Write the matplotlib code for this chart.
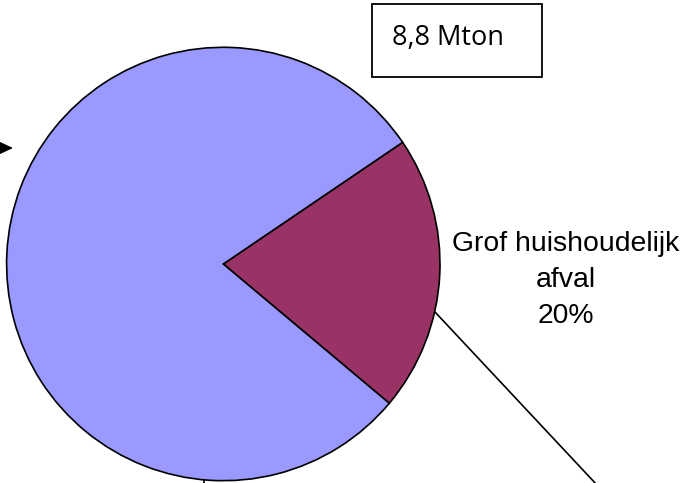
import matplotlib.pyplot as plt
from matplotlib.patches import Rectangle

# share of total waste (8,8 Mton)
categories = ["Grof huishoudelijk afval", "Overig"]
shares = [20.6, 79.4]
colors = ["#993366", "#9999FF"]
label_text = "Grof huishoudelijk\nafval\n20%"
total_text = "8,8 Mton"

W, H = 684, 483
fig = plt.figure(figsize=(W / 100, H / 100), dpi=100)
ax = fig.add_axes([0, 0, 1, 1])

# pixel-like coordinates, y measured from bottom
cx, cy, r = 223.3, H - 264, 216.7
ax.pie(shares, colors=colors, startangle=-40, center=(cx, cy), radius=r,
       wedgeprops=dict(edgecolor="black", linewidth=1.2))
ax.set_xlim(0, W)
ax.set_ylim(0, H)
ax.set_aspect("equal")
ax.axis("off")

ax.text(566, H - 280, label_text, ha="center", va="center", fontsize=20.4,
        family="Liberation Sans", linespacing=1.5)

# leader lines
ax.plot([435, 597], [H - 312, H - 485], color="black", lw=1.2)
ax.plot([204, 204], [H - 480, H - 490], color="black", lw=1.2)

# arrow coming in from the left
ax.annotate("", xy=(13, H - 148), xytext=(-40, H - 148),
            arrowprops=dict(arrowstyle="-|>,head_length=0.43,head_width=0.2",
                            mutation_scale=20, shrinkA=0, shrinkB=0,
                            color="black", lw=1.2))

# total box
ax.add_patch(Rectangle((372, H - 77), 170, 73, fill=False, edgecolor="black", lw=1.3))
ax.text(392, H - 45, total_text, ha="left", va="baseline", fontsize=19.5, family="Open Sans")

fig.savefig("out.png", dpi=100)
plt.close(fig)
